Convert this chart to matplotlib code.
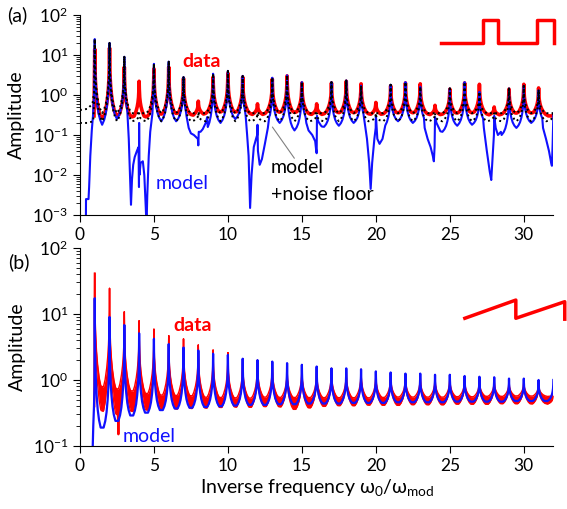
import numpy as np
import matplotlib.pyplot as plt

plt.rcParams['font.family'] = ['Lato', 'DejaVu Sans']
plt.rcParams['mathtext.fontset'] = 'custom'
plt.rcParams['mathtext.rm'] = 'Lato'
plt.rcParams['mathtext.it'] = 'Lato:italic'
plt.rcParams['mathtext.bf'] = 'Lato:bold'

# ---------------- panel (a): square-wave modulation ----------------
# peak amplitude at each harmonic n = 1..32
data_a_peaks = [14, 15, 5, 2.2, 4.5, 5, 2.6, 0.7, 2.8, 3.5, 2.8, 0.6, 2.5, 3.0, 2.0, 0.6,
                2.0, 2.2, 1.9, 0.65, 1.7, 2.0, 1.9, 0.55, 1.4, 2.0, 1.85, 0.5, 1.4, 1.85, 1.5, 0.3]
# level between harmonic n and n+1 (n = 1..31)
data_a_floor = [0.18, 0.22, 0.22, 0.22, 0.25, 0.27, 0.28, 0.3, 0.3, 0.3, 0.3, 0.3, 0.3, 0.3, 0.3, 0.3,
                0.3, 0.3, 0.3, 0.3, 0.3, 0.3, 0.3, 0.3, 0.3, 0.3, 0.3, 0.3, 0.3, 0.3, 0.3]

model_a_peaks = [25, 20, 9, 0.25, 6, 6.8, 2.8, 0.2, 3.4, 4, 3, 0.2, 2.7, 3.1, 2.1, 0.2,
                 2.1, 2.3, 1.7, 0.2, 1.8, 2.1, 1.6, 0.2, 1.45, 2.1, 1.2, 0.2, 1.45, 1.7, 1.3, 0.35]
model_a_floor = [0.18, 0.25, 0.2, 0.2, 0.22, 0.22, 0.2, 0.13, 0.2, 0.25, 0.2, 0.15, 0.2, 0.13, 0.2, 0.16,
                 0.17, 0.2, 0.2, 0.15, 0.22, 0.2, 0.2, 0.12, 0.17, 0.18, 0.2, 0.1, 0.15, 0.2, 0.2]
# start of the model curve (below harmonic 1)
model_a_start_x = [0.40, 0.41, 0.58, 0.62, 0.70, 0.80, 0.88, 0.95, 0.98]
model_a_start_y = [5e-4, 0.0025, 0.0025, 0.005, 0.03, 0.13, 0.3, 0.9, 3.0]
# deep minima of the model near the suppressed harmonics 4, 8, 12, ...
model_a_dips_x = [
    [3.2, 3.3, 3.38, 3.45, 3.52, 3.6, 3.7, 3.85, 3.96, 3.99, 4.0, 4.02, 4.1, 4.25, 4.35, 4.45, 4.5, 4.55, 4.65, 4.75, 4.85, 4.9],
    [7.2, 7.35, 7.5, 7.7, 7.9, 7.97, 8.0, 8.03, 8.15, 8.3, 8.5, 8.6],
    [11.2, 11.3, 11.4, 11.5, 11.6, 11.75, 11.9, 11.98, 12.0, 12.03, 12.15, 12.3, 12.5, 12.7, 12.8],
    [15.3, 15.45, 15.7, 15.9, 15.97, 16.0, 16.02, 16.1, 16.3],
    [19.25, 19.4, 19.55, 19.65, 19.75, 19.9, 19.99, 20.0, 20.02, 20.1, 20.25, 20.45, 20.6],
    [23.3, 23.5, 23.7, 23.85, 23.92, 23.97, 24.0, 24.1, 24.3],
    [27.3, 27.5, 27.7, 27.8, 27.9, 27.98, 28.0, 28.1, 28.25, 28.45],
    [31.3, 31.5, 31.7, 31.85, 31.9, 31.95, 32.0],
]
model_a_dips_y = [
    [0.4, 0.08, 0.01, 0.0018, 0.008, 0.018, 0.028, 0.04, 0.05, 0.005, 0.2, 0.01, 0.02, 0.022, 0.01, 0.0015, 5e-4, 0.003, 0.03, 0.12, 0.25, 0.35],
    [0.3, 0.15, 0.11, 0.1, 0.085, 0.08, 0.055, 0.12, 0.12, 0.14, 0.2, 0.28],
    [0.3, 0.1, 0.03, 0.0015, 0.01, 0.05, 0.08, 0.1, 0.18, 0.04, 0.018, 0.025, 0.06, 0.15, 0.3],
    [0.2, 0.13, 0.1, 0.07, 0.04, 0.035, 0.3, 0.22, 0.17],
    [0.2, 0.08, 0.02, 0.0045, 0.02, 0.08, 0.15, 0.3, 0.25, 0.08, 0.06, 0.08, 0.15],
    [0.15, 0.08, 0.05, 0.03, 0.022, 0.05, 0.28, 0.2, 0.14],
    [0.15, 0.04, 0.012, 0.0075, 0.03, 0.1, 0.3, 0.15, 0.1, 0.12],
    [0.15, 0.08, 0.04, 0.02, 0.017, 0.06, 0.35],
]

# model + noise floor (two dotted traces)
noise_a_peaks = [25, 20, 9, 0.35, 6, 6.8, 2.8, 0.35, 3.4, 4, 3, 0.35, 2.7, 3.1, 2.1, 0.35,
                 2.1, 2.3, 1.7, 0.35, 1.8, 2.1, 1.6, 0.35, 1.45, 2.1, 1.2, 0.35, 1.45, 1.7, 1.3, 0.35]
noise_a_upper = [0.35] * 31
noise_a_lower = [0.22] * 31

# ---------------- panel (b): sawtooth modulation ----------------
data_b_peaks = [41, 24.5, 10.8, 7.9, 5.9, 4.7, 4.2, 3.4, 2.85, 2.6, 2.1, 2.0, 1.9, 1.6, 1.6, 1.5,
                1.5, 1.45, 1.45, 1.3, 1.25, 1.2, 1.2, 1.15, 1.15, 1.1, 1.05, 1.05, 1.0, 1.0, 0.9, 0.6]
data_b_low = [0.24, 0.22, 0.26, 0.28, 0.3, 0.3, 0.31, 0.32, 0.33, 0.34, 0.34, 0.35, 0.35, 0.32, 0.34, 0.36,
              0.37, 0.37, 0.38, 0.38, 0.38, 0.39, 0.39, 0.39, 0.4, 0.4, 0.4, 0.41, 0.41, 0.41, 0.42]
data_b_high = [0.6, 0.58, 0.56, 0.52, 0.5, 0.5, 0.5, 0.48, 0.48, 0.48, 0.48, 0.5, 0.5, 0.5, 0.5, 0.5,
               0.5, 0.5, 0.5, 0.51, 0.52, 0.52, 0.52, 0.52, 0.53, 0.53, 0.54, 0.54, 0.55, 0.55, 0.56]

model_b_peaks = [17.3, 9, 6.8, 5.1, 4.2, 3.5, 3.1, 2.8, 2.5, 2.4, 2.1, 2.0, 1.9, 1.8, 1.7, 1.6,
                 1.5, 1.5, 1.45, 1.35, 1.3, 1.25, 1.25, 1.2, 1.2, 1.15, 1.12, 1.1, 1.05, 1.05, 1.0, 1.0]
model_b_floor = [0.19, 0.24, 0.29, 0.32, 0.35, 0.37, 0.38, 0.39, 0.4, 0.41, 0.42, 0.42, 0.43, 0.43, 0.44, 0.44,
                 0.44, 0.45, 0.45, 0.45, 0.46, 0.46, 0.46, 0.46, 0.47, 0.47, 0.47, 0.47, 0.48, 0.48, 0.48]
model_b_start_x = [0.86, 0.9, 0.95, 0.98]
model_b_start_y = [0.09, 0.2, 0.4, 0.8]

# modulation waveforms (insets)
square_t = [0, 3.16, 3.16, 4.28, 4.28, 7.14, 7.14, 8.43, 8.43]
square_v = [0, 0, 1, 1, 0, 0, 1, 1, 0]
saw_t = [0, 1, 1, 1.96, 1.96]
saw_v = [0, 1, 0, 0.91, -0.05]

# resonance line shape (fraction of log peak height vs distance from harmonic)
prof_d = np.array([0, 0.01, 0.03, 0.06, 0.1, 0.16, 0.25, 0.36, 0.5])
prof_f = np.array([1, 0.8, 0.6, 0.47, 0.36, 0.25, 0.14, 0.06, 0])


def resonances(peaks, floors, w=1.0):
    xs, ys = [], []
    for i, fl in enumerate(floors):
        n = i + 1
        la = np.log10(max(peaks[i], fl) / fl)
        lb = np.log10(max(peaks[i + 1], fl) / fl)
        d = np.unique(np.concatenate([prof_d * w, 1 - prof_d * w]))
        d = d[(d >= 0) & (d < 1)]
        fa = np.interp(d / w, prof_d, prof_f)
        fb = np.interp((1 - d) / w, prof_d, prof_f)
        xs.append(n + d)
        ys.append(fl * 10 ** (la * fa + lb * fb))
    xs.append([len(floors) + 1])
    ys.append([peaks[len(floors)]])
    return np.concatenate(xs), np.concatenate(ys)


def insert(x, y, px, py):
    keep = (x < px[0]) | (x > px[-1])
    x = np.concatenate([x[keep], px])
    y = np.concatenate([y[keep], py])
    order = np.argsort(x, kind='stable')
    return x[order], y[order]


fig = plt.figure(figsize=(5.67, 5.09), dpi=100)
ax1 = fig.add_axes([0.141, 0.5776, 0.835, 0.393])
ax2 = fig.add_axes([0.141, 0.1238, 0.835, 0.389])

red = '#ff0000'
blue = '#1010ff'

# --- (a)
xr, yr = resonances(data_a_peaks, data_a_floor, w=1.3)
xr, yr = insert(xr, yr, [0.95], [0.3])
ax1.plot(xr, yr, color=red, lw=2.6)

xb, yb = resonances(model_a_peaks, model_a_floor)
xb, yb = insert(xb, yb, model_a_start_x, model_a_start_y)
for px, py in zip(model_a_dips_x, model_a_dips_y):
    xb, yb = insert(xb, yb, px, py)
ax1.plot(xb, yb, color=blue, lw=1.5)

xu, yu = resonances(noise_a_peaks, noise_a_upper)
xu, yu = insert(xu, yu, [0, 0.5, 0.85, 0.95], [0.42, 0.45, 0.6, 1.2])
ax1.plot(xu, yu, color='black', lw=1.4, ls=':')
xl, yl = resonances(noise_a_peaks, noise_a_lower)
xl, yl = insert(xl, yl, [0, 0.5, 0.9, 0.97], [0.2, 0.2, 0.22, 0.8])
ax1.plot(xl, yl, color='black', lw=1.4, ls=':')

ax1.text(8.25, 6.7, 'data', color=red, fontsize=14, fontweight='bold', ha='center', va='center')
ax1.text(6.9, 0.0063, 'model', color=blue, fontsize=14, ha='center', va='center')
ax1.text(12.9, 0.015, 'model', color='black', fontsize=14, ha='left', va='center')
ax1.text(12.9, 0.0032, '+noise floor', color='black', fontsize=14, ha='left', va='center')
ax1.annotate('', xy=(12.9, 0.18), xytext=(14.6, 0.023),
             arrowprops=dict(arrowstyle='-', color='gray', lw=0.8))

ins1 = ax1.inset_axes([0.762, 0.8615, 0.239, 0.1135])
ins1.plot(square_t, square_v, color=red, lw=2.5, clip_on=False)
ins1.set_xlim(0, 8.43)
ins1.set_ylim(0, 1)
ins1.axis('off')

# --- (b)
xlo, ylo = resonances(data_b_peaks, data_b_low, w=1.2)
xhi, yhi = resonances(data_b_peaks, data_b_high, w=1.2)
ylo_i = np.interp(xhi, xlo, ylo)
ax2.fill_between(xhi, ylo_i, yhi, color=red, lw=0)
ax2.plot(xhi, yhi, color=red, lw=1.0)
ax2.plot(xlo, ylo, color=red, lw=1.0)
ax2.plot([0.97, 1.0], [0.4, 41], color=red, lw=1.5)
ax2.plot([2.55, 2.6, 2.65], [0.35, 0.15, 0.35], color=red, lw=1.5)

xm, ym = resonances(model_b_peaks, model_b_floor, w=0.8)
xm, ym = insert(xm, ym, model_b_start_x, model_b_start_y)
ax2.plot(xm, ym, color=blue, lw=1.6)

ax2.text(7.6, 6.8, 'data', color=red, fontsize=14, fontweight='bold', ha='center', va='center')
ax2.text(4.66, 0.137, 'model', color=blue, fontsize=14, ha='center', va='center')

ins2 = ax2.inset_axes([0.813, 0.645, 0.211, 0.092])
ins2.plot(saw_t, saw_v, color=red, lw=2.5, clip_on=False)
ins2.set_xlim(0, 1.96)
ins2.set_ylim(0, 1)
ins2.axis('off')

for ax, ylim in ((ax1, (1e-3, 1e2)), (ax2, (1e-1, 1e2))):
    ax.set_yscale('log')
    ax.set_ylim(*ylim)
    ax.set_xlim(0, 32)
    ax.set_xticks([0, 5, 10, 15, 20, 25, 30])
    ax.spines['top'].set_visible(False)
    ax.spines['right'].set_visible(False)
    ax.tick_params(which='major', direction='out', length=5, labelsize=12.5)
    ax.tick_params(which='minor', direction='out', length=3)
    ax.set_ylabel('Amplitude', fontsize=14, labelpad=5)

ax2.set_xlabel('Inverse frequency ω$_0$/ω$_{\\mathrm{mod}}$', fontsize=14, labelpad=2)
fig.text(0.012, 0.9705, '(a)', fontsize=14, va='center', ha='left')
fig.text(0.014, 0.485, '(b)', fontsize=14, va='center', ha='left')

fig.savefig('out.png', dpi=100)
